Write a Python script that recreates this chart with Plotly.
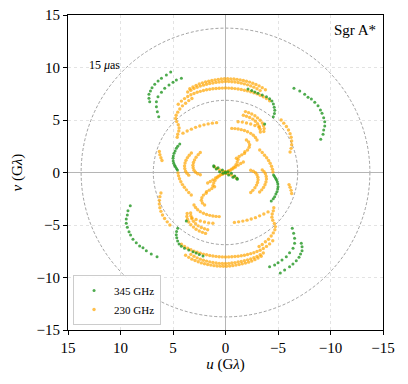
import plotly.graph_objects as go

# =============================================================================
# DATA  (u, v) in G-lambda, one half of each track; conjugates (-u, -v) added below
# =============================================================================
# --- 230 GHz tracks ---
o_top_outer = [(3.4, 7.98), (3.1, 8.14), (2.8, 8.3), (2.5, 8.44), (2.2, 8.54), (1.9, 8.63),
               (1.6, 8.7), (1.3, 8.77), (1.0, 8.82), (0.7, 8.87), (0.4, 8.9), (0.1, 8.93),
               (-0.2, 8.93), (-0.5, 8.92), (-0.8, 8.9), (-1.1, 8.87), (-1.4, 8.82), (-1.7, 8.76),
               (-2.0, 8.69), (-2.3, 8.61), (-2.6, 8.5), (-2.9, 8.38), (-3.2, 8.25), (-3.5, 8.08),
               (-3.8, 7.88)]
o_top_inner = [(3.6, 7.66), (3.3, 7.84), (3.0, 7.99), (2.7, 8.12), (2.4, 8.23), (2.1, 8.32),
               (1.8, 8.4), (1.5, 8.47), (1.2, 8.53), (0.9, 8.58), (0.6, 8.62), (0.3, 8.65),
               (0.0, 8.67), (-0.3, 8.67), (-0.6, 8.65), (-0.9, 8.62), (-1.2, 8.57), (-1.5, 8.51),
               (-1.8, 8.44), (-2.1, 8.35), (-2.4, 8.25), (-2.7, 8.13), (-3.0, 7.98), (-3.3, 7.8)]
o_second = [(4.5, 6.5), (4.2, 6.8), (3.9, 7.04), (3.6, 7.24), (3.3, 7.4), (3.0, 7.53), (2.7, 7.64),
            (2.4, 7.73), (2.1, 7.81), (1.8, 7.88), (1.5, 7.93), (1.2, 7.97), (0.9, 8.0), (0.6, 8.03),
            (0.3, 8.04), (0.0, 8.05), (-0.3, 8.04), (-0.6, 8.02), (-0.9, 7.99), (-1.2, 7.95),
            (-1.5, 7.9), (-1.8, 7.84), (-2.1, 7.77), (-2.4, 7.69), (-2.7, 7.6), (-3.0, 7.49),
            (-3.3, 7.36), (-3.6, 7.21), (-3.9, 7.04), (-4.2, 6.84)]
o_left_col = [(3.2, 7.05), (3.5, 6.85), (3.8, 6.6), (4.1, 6.35), (4.35, 6.05), (4.55, 5.75),
              (4.7, 5.45), (4.75, 5.15), (4.65, 4.85), (4.5, 4.55), (4.42, 4.25), (4.45, 3.95),
              (4.55, 3.65), (4.6, 3.35)]
o_dots_left = [(4.05, 3.75), (3.65, 3.95), (3.25, 4.13), (2.85, 4.3), (2.45, 4.43), (2.05, 4.54),
               (1.65, 4.63), (1.25, 4.7), (0.85, 4.75)]
o_dots_right = [(-1.2, 4.84), (-1.6, 4.8), (-2.0, 4.72), (-2.4, 4.62), (-2.8, 4.48), (-3.2, 4.3)]
o_arc_f1 = [(-1.9, 5.8), (-2.2, 5.7), (-2.5, 5.57), (-2.8, 5.4), (-3.05, 5.2), (-3.3, 4.98),
            (-3.5, 4.72), (-3.62, 4.45), (-3.68, 4.18), (-3.65, 3.9)]
o_arc_f1b = [(-1.7, 5.45), (-2.0, 5.36), (-2.3, 5.24), (-2.6, 5.08), (-2.85, 4.88), (-3.05, 4.65),
             (-3.2, 4.4), (-3.3, 4.12), (-3.32, 3.85)]
o_arc_f2 = [(-0.6, 4.2), (-0.9, 4.18), (-1.2, 4.14), (-1.5, 4.08), (-1.8, 4.0), (-2.1, 3.88),
            (-2.4, 3.73), (-2.65, 3.55), (-2.85, 3.33), (-3.0, 3.1)]
o_right_out = [(-5.3, 5.0), (-5.55, 4.7), (-5.8, 4.38), (-6.0, 4.05), (-6.15, 3.7), (-6.25, 3.35),
               (-6.3, 3.0), (-6.3, 2.65), (-6.25, 2.3), (-6.15, 1.95)]
o_left_small = [(6.3, 2.0), (6.25, 1.7), (6.15, 1.4), (6.05, 1.15)]
o_cres_1 = [(2.4, 1.9), (2.6, 1.7), (2.8, 1.45), (2.95, 1.2), (3.05, 0.95), (3.1, 0.7),
            (3.08, 0.45), (3.0, 0.22), (2.85, 0.02), (2.65, -0.12), (2.4, -0.22)]
o_cres_2 = [(3.25, 1.85), (3.45, 1.65), (3.62, 1.42), (3.76, 1.17), (3.85, 0.9), (3.9, 0.63),
            (3.88, 0.37), (3.8, 0.12), (3.67, -0.08), (3.5, -0.25)]
o_cross_1 = [(1.7, -1.0), (1.45, -0.85), (1.2, -0.7), (0.95, -0.52), (0.7, -0.35), (0.45, -0.18),
             (0.2, -0.05), (-0.05, 0.05), (-0.3, 0.18), (-0.55, 0.32), (-0.8, 0.5), (-1.0, 0.75),
             (-1.12, 1.0), (-1.2, 1.25)]
o_cross_2 = [(1.05, 0.55), (0.8, 0.38), (0.55, 0.24), (0.3, 0.14), (0.08, 0.08)]
o_cross_3 = [(-1.04, 1.35), (-1.3, 1.52), (-1.55, 1.68), (-1.8, 1.82)]
o_right_mid = [(-3.26, 2.14), (-3.5, 1.9), (-3.72, 1.65), (-3.92, 1.4), (-4.1, 1.15), (-4.25, 0.88),
               (-4.38, 0.6), (-4.47, 0.32), (-4.52, 0.05)]
o_short = [(-1.99, 3.1), (-2.2, 2.9), (-2.3, 2.65), (-2.25, 2.4), (-2.1, 2.15), (-1.85, 1.98)]

# --- 345 GHz tracks ---
g_outer_a = [(5.22, 9.57), (5.63, 9.29), (6.1, 8.97), (6.42, 8.71), (6.74, 8.4), (7.0, 8.08),
             (7.15, 7.76), (7.29, 7.45), (7.29, 7.07), (7.22, 6.74)]
g_outer_b = [(4.2, 8.97), (4.68, 8.81), (5.0, 8.59), (5.38, 8.33), (5.79, 8.02), (6.1, 7.64),
             (6.43, 7.22), (6.58, 6.74), (6.58, 6.27), (6.49, 5.79), (6.36, 5.31)]
g_right_far = [(-6.52, 8.02), (-7.07, 7.76), (-7.54, 7.45), (-7.86, 7.16), (-8.18, 7.0),
               (-8.5, 6.69), (-8.81, 6.36), (-9.04, 5.95), (-9.19, 5.64), (-9.35, 5.22),
               (-9.45, 4.84), (-9.45, 4.43), (-9.35, 4.05), (-9.29, 3.64), (-9.07, 3.16)]
g_inner_top = [(-2.14, 7.95), (-2.5, 7.8), (-2.8, 7.66), (-3.1, 7.54), (-3.5, 7.38), (-3.9, 7.22),
               (-4.2, 7.03), (-4.42, 6.8), (-4.56, 6.52), (-4.64, 6.22), (-4.69, 5.92),
               (-4.66, 5.62), (-4.55, 5.32)]
g_inner_left = [(4.36, 2.71), (4.55, 2.5), (4.68, 2.3), (4.8, 2.05), (4.9, 1.83), (4.97, 1.58),
                (5.0, 1.35), (4.98, 1.1), (4.93, 0.88), (4.85, 0.7), (4.77, 0.55), (4.67, 0.38),
                (4.58, 0.24)]
g_center = [(1.12, 0.65), (0.71, 0.46), (0.3, 0.24), (0.01, 0.05), (-0.24, 0.08), (-0.56, -0.08),
            (-0.88, -0.33), (-1.1, -0.55)]
g_single = [(-3.73, 4.62)]

TRACKS_230 = [o_top_outer, o_top_inner, o_second, o_left_col, o_dots_left, o_dots_right,
              o_arc_f1, o_arc_f1b, o_arc_f2, o_right_out, o_left_small, o_cres_1, o_cres_2,
              o_cross_1, o_cross_2, o_cross_3, o_right_mid, o_short]
TRACKS_345 = [g_outer_a, g_outer_b, g_right_far, g_inner_top, g_inner_left, g_center, g_single]

CIRCLE_RADII = [6.875, 13.75]          # 30 and 15 micro-arcsec
TICKS = [-15, -10, -5, 0, 5, 10, 15]

FONT = "Liberation Serif"


def uv_with_conjugates(tracks):
    u, v = [], []
    for tr in tracks:
        for a, b in tr:
            u += [a, -a]
            v += [b, -b]
    return u, v


u230, v230 = uv_with_conjugates(TRACKS_230)
u345, v345 = uv_with_conjugates(TRACKS_345)

fig = go.Figure()
fig.add_trace(go.Scatter(x=u230, y=v230, mode="markers", name="230 GHz",
                         marker=dict(color="rgba(255,165,0,0.7)", size=3.4, line=dict(width=0))))
fig.add_trace(go.Scatter(x=u345, y=v345, mode="markers", name="345 GHz",
                         marker=dict(color="rgba(34,150,34,0.8)", size=3.0, line=dict(width=0))))

for r in CIRCLE_RADII:
    fig.add_shape(type="circle", xref="x", yref="y", x0=-r, x1=r, y0=-r, y1=r,
                  line=dict(color="#7a7a7a", width=0.7, dash="3px,2px"), layer="below")

fig.add_annotation(x=11.5, y=10.2, xref="x", yref="y", text="15 <i>μ</i>as", showarrow=False,
                   font=dict(family=FONT, size=12, color="black"))
fig.add_annotation(x=0.985, y=0.985, xref="paper", yref="paper", text="Sgr A*", showarrow=False,
                   xanchor="right", yanchor="top", font=dict(family=FONT, size=15, color="black"))

axis_common = dict(
    tickvals=TICKS, ticks="outside", ticklen=4, tickcolor="black", automargin=False,
    showline=True, mirror=True, linecolor="black", linewidth=1.2,
    showgrid=True, gridcolor="#e3e3e3", griddash="dot", gridwidth=0.8,
    zeroline=True, zerolinecolor="#b5b5b5", zerolinewidth=1,
    tickfont=dict(family=FONT, size=15, color="black"),
)

fig.update_layout(
    width=408, height=384,
    margin=dict(l=68, r=25, t=15, b=54),
    paper_bgcolor="white", plot_bgcolor="white",
    font=dict(family=FONT, color="black"),
    xaxis=dict(range=[15, -15], title=dict(text="<i>u</i> (G<i>λ</i>)", standoff=2,
                                          font=dict(family=FONT, size=15)), **axis_common),
    yaxis=dict(range=[-15, 15], title=dict(text="<i>v</i> (G<i>λ</i>)", standoff=10,
                                          font=dict(family=FONT, size=15)), **axis_common),
    showlegend=True,
    legend=dict(x=0.016, y=0.016, xanchor="left", yanchor="bottom", traceorder="reversed",
                bgcolor="rgba(255,255,255,0.9)", bordercolor="#cccccc", borderwidth=1,
                font=dict(family=FONT, size=11), itemwidth=30, tracegroupgap=0),
)

fig.write_html("out.html", config={"displayModeBar": False},
               post_script="document.body.style.margin='0';")
